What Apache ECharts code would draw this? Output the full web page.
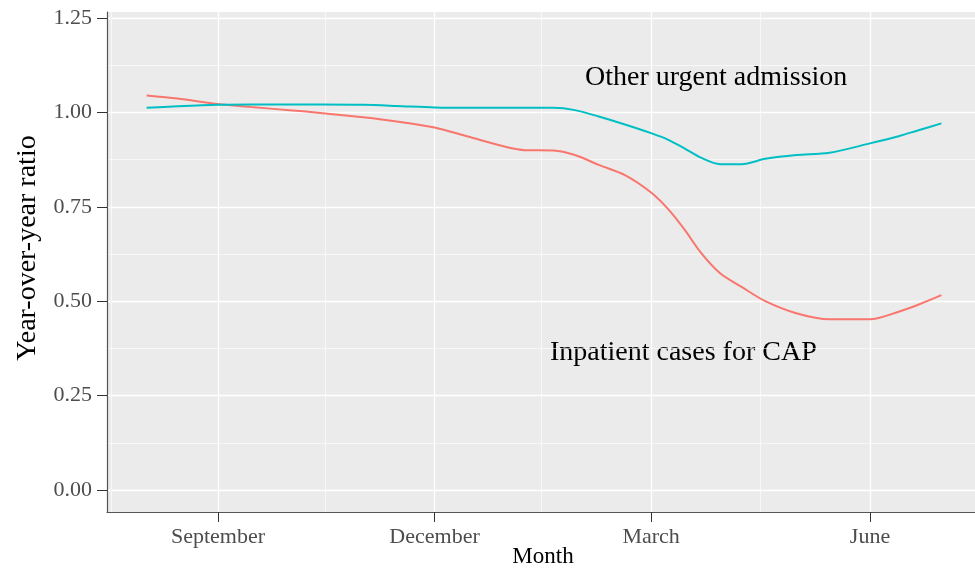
<!DOCTYPE html>
<html>
<head>
<meta charset="utf-8">
<title>Year-over-year ratio</title>
<script src="https://cdn.jsdelivr.net/npm/echarts@6/dist/echarts.min.js"></script>
<style>
  html, body { margin: 0; padding: 0; background: #fff; }
  #main { width: 975px; height: 569px; }
</style>
</head>
<body>
<div id="main"></div>
<script>
// dates of the smoothed curves
const dates = [
  '2019-08-02', '2019-08-15', '2019-09-01', '2019-09-15', '2019-10-01', '2019-10-15',
  '2019-11-01', '2019-11-15', '2019-12-01', '2019-12-15', '2020-01-01', '2020-01-08',
  '2020-01-20', '2020-01-29', '2020-02-08', '2020-02-19', '2020-03-01', '2020-03-08',
  '2020-03-15', '2020-03-22', '2020-03-30', '2020-04-08', '2020-04-18', '2020-05-01',
  '2020-05-15', '2020-06-01', '2020-06-13', '2020-06-21', '2020-07-01'
];
// Inpatient cases for CAP
const capRatio = [
  1.045, 1.037, 1.022, 1.014, 1.006, 0.998,
  0.987, 0.976, 0.960, 0.936, 0.907, 0.900,
  0.899, 0.887, 0.861, 0.834, 0.788, 0.745,
  0.690, 0.628, 0.574, 0.538, 0.500, 0.468,
  0.452, 0.452, 0.472, 0.490, 0.516
];
// Other urgent admission
const otherRatio = [
  1.012, 1.016, 1.020, 1.021, 1.021, 1.021,
  1.020, 1.017, 1.013, 1.012, 1.012, 1.012,
  1.012, 1.006, 0.989, 0.968, 0.945, 0.928,
  0.905, 0.880, 0.863, 0.863, 0.877, 0.887,
  0.893, 0.918, 0.937, 0.952, 0.971
];
const yTicks = [0, 0.25, 0.5, 0.75, 1.0, 1.25];
const yMinor = [0.125, 0.375, 0.625, 0.875, 1.125];
const xTickDates = ['2019-09-01', '2019-12-01', '2020-03-01', '2020-06-01'];
const xMinorDates = ['2019-07-18', '2019-10-16', '2020-01-15', '2020-04-16'];
const monthNames = ['January', 'February', 'March', 'April', 'May', 'June', 'July',
  'August', 'September', 'October', 'November', 'December'];

const DAY = 86400000;
const toTime = s => {
  const p = s.split('-').map(Number);
  return Date.UTC(p[0], p[1] - 1, p[2]);
};
const xTicks = xTickDates.map(toTime);
const xMinor = xMinorDates.map(toTime);

const serif = 'Liberation Serif, Times New Roman, serif';
const xMin = toTime('2019-07-16') + 0.35 * DAY;
const xMax = toTime('2020-07-15') + 0.12 * DAY;
const yMin = -0.0583;
const yMax = 1.2659;

const chart = echarts.init(document.getElementById('main'), null, { renderer: 'canvas' });

const majorLine = { show: true, lineStyle: { color: '#ffffff', width: 1.3 } };
const minorLine = { show: true, lineStyle: { color: '#ffffff', width: 0.6 } };

chart.setOption({
  animation: false,
  backgroundColor: '#ffffff',
  grid: {
    left: 107, right: 0, top: 12, bottom: 57,
    outerBoundsMode: 'none', containLabel: false,
    show: true, backgroundColor: '#EBEBEB', borderWidth: 0
  },
  xAxis: [
    {
      type: 'value', min: xMin, max: xMax,
      position: 'bottom',
      axisLine: { show: true, onZero: false, lineStyle: { color: '#555555', width: 1.2 } },
      axisTick: { show: true, length: 10, customValues: xTicks, lineStyle: { color: '#333333', width: 1 } },
      axisLabel: {
        customValues: xTicks, margin: 14,
        fontFamily: serif, fontSize: 22, color: '#4D4D4D',
        formatter: v => monthNames[new Date(v).getUTCMonth()]
      },
      splitLine: majorLine
    },
    {
      type: 'value', min: xMin, max: xMax, position: 'top',
      axisLine: { show: false },
      axisTick: { show: false, customValues: xMinor },
      axisLabel: { show: false },
      splitLine: minorLine
    }
  ],
  yAxis: [
    {
      type: 'value', min: yMin, max: yMax,
      axisLine: { show: true, onZero: false, lineStyle: { color: '#555555', width: 1.2 } },
      axisTick: { show: true, length: 10, customValues: yTicks, lineStyle: { color: '#333333', width: 1 } },
      axisLabel: {
        customValues: yTicks, margin: 15,
        fontFamily: serif, fontSize: 22, color: '#4D4D4D',
        formatter: v => v.toFixed(2)
      },
      splitLine: majorLine
    },
    {
      type: 'value', min: yMin, max: yMax, position: 'right',
      axisLine: { show: false },
      axisTick: { show: false, customValues: yMinor },
      axisLabel: { show: false },
      splitLine: minorLine
    }
  ],
  graphic: [
    {
      type: 'text', x: 28, y: 248, rotation: Math.PI / 2,
      style: {
        text: 'Year-over-year ratio', fontFamily: serif, fontSize: 28,
        fill: '#000000', align: 'center', verticalAlign: 'middle'
      }
    },
    {
      type: 'text', x: 543, y: 557,
      style: {
        text: 'Month', fontFamily: serif, fontSize: 23,
        fill: '#000000', align: 'center', verticalAlign: 'middle'
      }
    },
    {
      type: 'text', x: 585, y: 77.5,
      style: {
        text: 'Other urgent admission', fontFamily: serif, fontSize: 28,
        fill: '#000000', align: 'left', verticalAlign: 'middle'
      }
    },
    {
      type: 'text', x: 550, y: 352.5,
      style: {
        text: 'Inpatient cases for CAP', fontFamily: serif, fontSize: 28,
        fill: '#000000', align: 'left', verticalAlign: 'middle'
      }
    }
  ],
  series: [
    {
      name: 'Inpatient cases for CAP', type: 'line',
      xAxisIndex: 0, yAxisIndex: 0,
      data: dates.map((d, i) => [toTime(d), capRatio[i]]),
      showSymbol: false, smooth: 0.3,
      lineStyle: { color: '#F8766D', width: 2 },
      itemStyle: { color: '#F8766D' }
    },
    {
      name: 'Other urgent admission', type: 'line',
      xAxisIndex: 0, yAxisIndex: 0,
      data: dates.map((d, i) => [toTime(d), otherRatio[i]]),
      showSymbol: false, smooth: 0.3,
      lineStyle: { color: '#00BFC4', width: 2 },
      itemStyle: { color: '#00BFC4' }
    }
  ]
});
</script>
</body>
</html>
